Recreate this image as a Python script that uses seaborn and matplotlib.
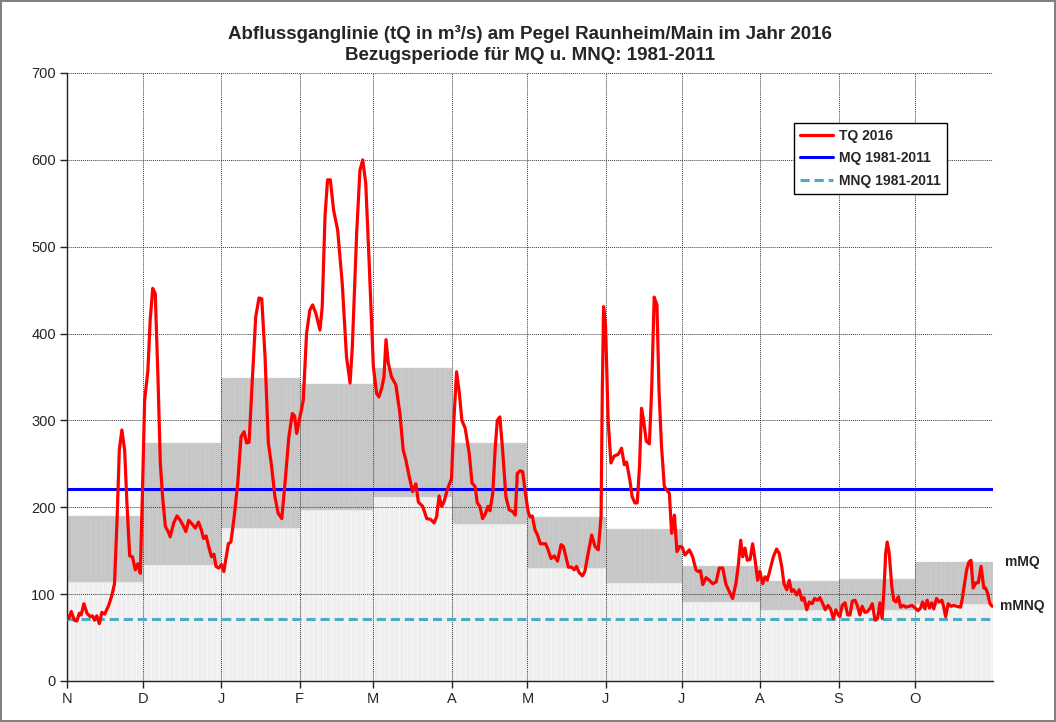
import numpy as np
import pandas as pd
import matplotlib
matplotlib.use("Agg")
import matplotlib.pyplot as plt
import seaborn as sns

# ---------------- data ----------------
MONTH_LABELS = ["N", "D", "J", "F", "M", "A", "M", "J", "J", "A", "S", "O"]
# monthly mean flow (upper band edge) and monthly mean low flow (lower band edge), 1981-2011
MMQ = [190, 274, 349, 342, 360, 274, 189, 175, 132, 115, 117, 137]
MMNQ = [114, 133, 176, 197, 212, 181, 130, 113, 91, 82, 82, 89]
MQ = 221
MNQ = 71

# daily discharge 2016 (day of hydrological year since 1 Nov 2015, m³/s)
TQ_DAY = [0.7, 1.7, 2.9, 3.9, 4.9, 5.6, 6.7, 7.9, 9.2, 10.1, 10.9, 11.8, 12.8, 13.8, 14.9, 16.5,
          17.8, 18.8, 19.8, 20.7, 21.7, 22.8, 23.7, 24.8, 25.9, 27.0, 28.0, 29.0, 29.9, 30.7,
          32.0, 32.9, 33.9, 34.9, 36.0, 36.9, 37.8, 38.9, 40.0, 40.8, 42.2, 43.5, 44.8, 46.1,
          47.0, 48.1, 49.4, 50.7, 52.0, 53.1, 54.0, 55.0, 56.0, 57.1, 58.1, 58.9, 60.0, 61.1,
          62.0, 63.8, 64.8, 66.1, 67.5, 68.8, 70.0, 71.0, 72.0, 73.2, 74.6, 75.9, 77.0, 78.3,
          79.6, 80.9, 82.2, 83.5, 84.9, 86.2, 87.7, 89.1, 90.0, 90.8, 92.1, 93.4, 94.7, 96.0,
          97.1, 98.4, 100.0, 100.9, 102.0, 103.0, 104.1, 105.4, 107.0, 108.8, 110.5, 111.9,
          112.8, 114.5, 115.8, 116.9, 118.1, 119.4, 121.1, 122.4, 123.3, 124.4, 125.3, 126.1,
          127.0, 128.3, 130.0, 131.6, 132.9, 134.0, 135.3, 136.6, 137.9, 138.9, 140.6, 142.2,
          143.8, 145.1, 146.1, 147.1, 148.1, 149.0, 150.3, 152.0, 153.0, 154.0, 155.1, 156.1,
          157.4, 159.0, 160.1, 161.3, 162.2, 163.2, 164.3, 165.3, 166.4, 167.2, 168.3, 169.3,
          170.1, 171.1, 172.2, 173.5, 174.8, 176.2, 177.2, 178.0, 179.1, 180.1, 181.2, 182.3,
          183.0, 183.9, 185.0, 186.0, 187.1, 188.3, 189.2, 190.2, 191.3, 192.6, 193.9, 195.3,
          196.2, 197.1, 198.2, 199.5, 200.5, 201.4, 202.4, 203.7, 204.7, 206.0, 207.4, 208.7,
          210.0, 211.1, 211.6, 212.1, 212.9, 213.9, 215.0, 216.3, 217.9, 219.2, 220.3, 221.2,
          222.5, 223.4, 224.5, 225.4, 226.3, 227.1, 227.9, 229.0, 230.2, 231.1, 232.1, 233.2,
          234.0, 235.0, 236.1, 237.0, 238.1, 239.0, 240.1, 241.1, 242.2, 243.2, 244.3, 246.0,
          247.3, 248.6, 249.5, 250.4, 251.3, 252.6, 253.9, 255.2, 256.6, 257.8, 259.2, 260.5,
          261.8, 263.1, 264.4, 265.3, 266.3, 267.1, 268.0, 268.9, 270.0, 271.0, 272.0, 273.0,
          273.9, 275.0, 275.9, 276.8, 277.9, 279.2, 280.5, 281.5, 282.5, 283.4, 284.5, 285.5,
          286.4, 287.3, 288.4, 289.4, 290.5, 291.3, 292.4, 293.4, 294.5, 295.5, 296.6, 297.6,
          298.7, 299.7, 300.8, 301.8, 302.9, 303.9, 304.9, 305.5, 306.4, 307.5, 308.6, 309.5,
          310.4, 311.5, 312.5, 313.4, 314.3, 315.4, 316.4, 317.5, 318.3, 319.4, 320.4, 321.3,
          322.2, 323.0, 323.6, 324.2, 325.0, 326.0, 326.8, 327.7, 328.6, 329.5, 330.6, 331.6,
          332.9, 334.0, 335.3, 336.4, 337.4, 338.2, 339.1, 340.0, 340.9, 341.8, 342.6, 343.7,
          344.7, 345.8, 346.4, 347.3, 348.3, 349.4, 350.5, 351.7, 353.2, 353.9, 354.7, 355.6,
          356.5, 357.3, 358.2, 359.2, 360.2, 361.3, 362.4, 363.1, 363.9, 364.8, 365.7]
TQ_VALUE = [72, 80, 70, 69, 78, 76, 89, 78, 74, 75, 70, 75, 66, 79, 77, 87,
            99, 112, 185, 266, 289, 266, 205, 144, 143, 128, 135, 124, 224, 323,
            358, 416, 452, 446, 347, 251, 212, 178, 172, 166, 182, 190, 185, 178,
            172, 185, 181, 176, 183, 174, 164, 167, 155, 143, 146, 132, 130, 134,
            126, 158, 160, 189, 228, 281, 287, 274, 275, 343, 419, 441, 440, 373,
            274, 247, 212, 193, 187, 228, 281, 308, 305, 285, 304, 323, 400, 427,
            433, 423, 404, 431, 535, 577, 577, 542, 519, 458, 373, 343,
            385, 515, 588, 600, 573, 485, 362, 331, 327, 337, 350, 393,
            366, 350, 341, 308, 266, 254, 235, 218, 227, 206, 201, 187,
            186, 182, 189, 213, 201, 206, 220, 233, 304, 356, 331, 300,
            291, 262, 228, 224, 205, 201, 187, 192, 201, 196, 216, 270,
            300, 304, 266, 212, 197, 195, 191, 239, 242, 241, 216, 195,
            189, 190, 174, 168, 158, 158, 158, 151, 141, 144, 138, 157,
            155, 144, 131, 131, 128, 132, 125, 121, 126, 147, 168, 155,
            151, 189, 335, 431, 408, 300, 251, 259, 261, 268, 249, 252,
            231, 212, 205, 205, 247, 314, 300, 276, 273, 335, 442, 433,
            335, 270, 224, 220, 216, 170, 191, 149, 155, 154, 145, 151,
            143, 128, 126, 127, 111, 119, 116, 112, 114, 130, 130, 111,
            103, 95, 112, 132, 162, 143, 153, 139, 140, 158, 139, 116,
            126, 112, 120, 116, 128, 143, 152, 147, 132, 112, 105, 116,
            103, 105, 99, 105, 93, 96, 82, 91, 89, 95, 93, 96,
            89, 82, 87, 83, 72, 82, 76, 74, 87, 90, 76, 76,
            92, 93, 86, 76, 86, 79, 80, 84, 89, 70, 72, 90,
            72, 109, 147, 160, 147, 109, 93, 91, 97, 85, 87, 85,
            86, 87, 84, 81, 84, 91, 83, 93, 84, 90, 83, 95,
            91, 93, 87, 74, 89, 86, 87, 86, 85, 95, 111, 128,
            137, 139, 107, 113, 113, 132, 107, 107, 101, 89, 86]

TITLE = "Abflussganglinie (tQ in m³/s) am Pegel Raunheim/Main im Jahr 2016\nBezugsperiode für MQ u. MNQ: 1981-2011"

# ---------------- style ----------------
sns.set_style("white")
plt.rcParams["font.family"] = ["Liberation Sans", "DejaVu Sans"]

dates = pd.date_range("2015-11-01", "2016-10-31", freq="D")
month_idx = np.asarray((dates.year - 2015) * 12 + dates.month - 11)
n_days = len(dates)
month_starts = [int(np.where(month_idx == m)[0][0]) for m in range(12)]
days = np.arange(n_days)
lower = np.asarray(MMNQ)[month_idx]
upper = np.asarray(MMQ)[month_idx]

fig = plt.figure(figsize=(10.56, 7.22), dpi=100)
fig.patch.set_facecolor("white")
fig.patch.set_edgecolor("#808080")
fig.patch.set_linewidth(1.5)
ax = fig.add_axes([0.0634, 0.0568, 0.8769, 0.8421])

# daily hatched bands
ax.bar(days + 0.5, lower, width=1.0, color="#f6f6f6", edgecolor="#e0e0e0",
       linewidth=0.3, zorder=1)
ax.bar(days + 0.5, upper - lower, bottom=lower, width=1.0, color="#c4c4c4",
       edgecolor="#d4d4d4", linewidth=0.3, zorder=1)

# lines
sns.lineplot(x=TQ_DAY, y=TQ_VALUE, ax=ax, color="#ff0000", linewidth=2.3, sort=False,
             estimator=None, label="TQ 2016", zorder=4)
sns.lineplot(x=[0, n_days], y=[MQ, MQ], ax=ax, color="#0000ff", linewidth=2.2,
             estimator=None, label="MQ 1981-2011", zorder=3)
sns.lineplot(x=[0, n_days], y=[MNQ, MNQ], ax=ax, color="#4bacc6", linewidth=2.2,
             linestyle=(0, (3, 1.6)), estimator=None, label="MNQ 1981-2011", zorder=3)

ax.set_xlim(0, n_days)
ax.set_ylim(0, 700)
ax.set_yticks(range(0, 701, 100))
ax.set_xticks(month_starts)
ax.set_xticklabels(MONTH_LABELS)
ax.set_xlabel("")
ax.set_ylabel("")

ax.set_axisbelow("line")
ax.grid(True, color="#3a3a3a", linestyle=(0, (1, 1)), linewidth=0.7)
for s in ["top", "right"]:
    ax.spines[s].set_visible(False)
for s in ["left", "bottom"]:
    ax.spines[s].set_color("#222222")
    ax.spines[s].set_linewidth(1.0)
ax.tick_params(axis="both", which="both", bottom=True, left=True, direction="out",
               length=5, width=1, color="#222222", labelsize=10.5, pad=3)

ax.set_title(TITLE, fontsize=13.5, fontweight="bold", pad=9, linespacing=1.35)

leg = ax.legend(loc="upper left", bbox_to_anchor=(0.785, 0.918), borderaxespad=0,
                frameon=True, fancybox=False, edgecolor="black", framealpha=1,
                prop={"weight": "bold", "size": 10},
                handlelength=2.4, borderpad=0.42, labelspacing=0.62, handletextpad=0.45)
leg.get_frame().set_linewidth(1.0)

ax.text(n_days + 11.5, MMQ[-1], "mMQ", fontsize=10, fontweight="bold", ha="center",
        va="center", clip_on=False)
ax.text(n_days + 11.5, (MMNQ[-1] + MNQ) / 2 + 6, "mMNQ", fontsize=10, fontweight="bold",
        ha="center", va="center", clip_on=False)

fig.savefig("out.png", dpi=100, facecolor=fig.get_facecolor(), edgecolor=fig.get_edgecolor())
